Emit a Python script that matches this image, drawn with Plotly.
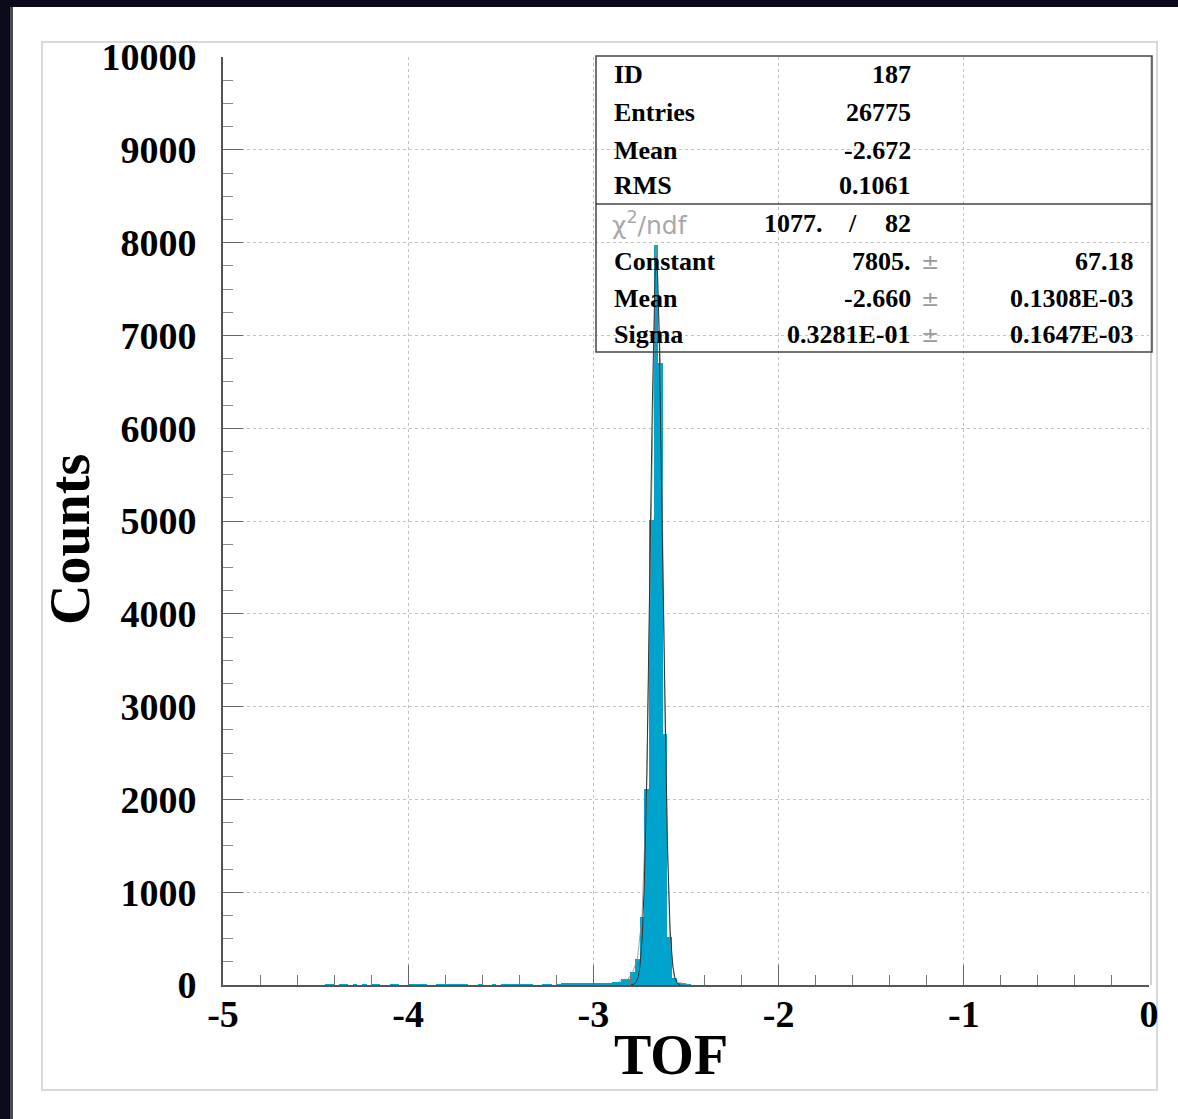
import numpy as np
import plotly.graph_objects as go

# ---------------- data ----------------
X_MIN, X_MAX = -5.0, 0.0
BIN_WIDTH = 0.025
bin_numbers = [22, 23, 25, 26, 28, 30, 32, 33, 36, 37, 40, 41, 42, 43,
               46, 47, 48, 49, 50, 51, 52, 55, 58, 60, 61, 62, 63, 64, 65, 66,
               69, 70, 72, 73, 74, 75, 76, 77, 78, 79, 80, 81, 82, 83, 84, 85,
               86, 87, 88, 89, 90, 91, 92, 93, 94, 95, 96, 97, 98, 99, 100]
counts = [8, 8, 6, 8, 7, 6, 9, 7, 8, 8, 10, 9, 8, 10,
          9, 10, 8, 10, 9, 8, 9, 6, 7, 8, 6, 9, 10, 8, 9, 10,
          8, 9, 10, 12, 11, 12, 15, 16, 14, 12, 16, 20, 18, 25, 30, 36,
          60, 62, 143, 280, 736, 2109, 5011, 7974, 6699, 2701, 514, 75, 25, 12, 5]

fit_constant = 7805.0
fit_mean = -2.660
fit_sigma = 0.03281
fit_range = [-2.80, -2.53]

x_tick_vals = [-5, -4, -3, -2, -1, 0]
x_tick_text = ["-5", "-4", "-3", "-2", "-1", "0"]
y_tick_vals = [0, 1000, 2000, 3000, 4000, 5000, 6000, 7000, 8000, 9000, 10000]
y_tick_text = [str(v) for v in y_tick_vals]

stat_labels_top = ["ID", "Entries", "Mean", "RMS"]
stat_values_top = ["187", "26775", "-2.672", "0.1061"]
chi2_value, ndf_value = "1077.", "82"
fit_labels = ["Constant", "Mean", "Sigma"]
fit_values = ["7805.", "-2.660", "0.3281E-01"]
fit_errors = ["67.18", "0.1308E-03", "0.1647E-03"]

# ---------------- geometry helpers ----------------
W, H = 1178, 1119
L, R, T, B = 223, 1149, 57, 985


def px(X):
    return (X - L) / (R - L)


def py(Y):
    return (B - Y) / (B - T)


BAR_COLOR = "#00A3CC"
SERIF = "Liberation Serif"

centers = [X_MIN + BIN_WIDTH * (k + 0.5) for k in bin_numbers]

fig = go.Figure()
fig.add_trace(go.Bar(x=centers, y=counts, width=BIN_WIDTH,
                     marker=dict(color=BAR_COLOR, line=dict(width=0)),
                     hoverinfo="x+y", showlegend=False))
# light outline joining bin contents
fig.add_trace(go.Scatter(x=centers[-16:], y=counts[-16:], mode="lines",
                         line=dict(color="rgba(140,140,140,0.8)", width=1),
                         hoverinfo="skip", showlegend=False))
xf = np.linspace(fit_range[0], fit_range[1], 300)
yf = fit_constant * np.exp(-0.5 * ((xf - fit_mean) / fit_sigma) ** 2)
fig.add_trace(go.Scatter(x=xf, y=yf, mode="lines",
                         line=dict(color="#333333", width=1),
                         hoverinfo="skip", showlegend=False))

shapes = []
# dark screen border (top / left)
shapes.append(dict(type="rect", xref="paper", yref="paper",
                   x0=px(0), x1=px(W), y0=py(0), y1=py(7),
                   fillcolor="#0b0b1c", line=dict(width=0), layer="above"))
shapes.append(dict(type="rect", xref="paper", yref="paper",
                   x0=px(0), x1=px(10), y0=py(H), y1=py(0),
                   fillcolor="#0b0b1c", line=dict(width=0), layer="above"))
shapes.append(dict(type="rect", xref="paper", yref="paper",
                   x0=px(10), x1=px(13), y0=py(H), y1=py(7),
                   fillcolor="#4a4a55", line=dict(width=0), layer="above"))
# canvas frame
shapes.append(dict(type="rect", xref="paper", yref="paper",
                   x0=px(42), x1=px(1157), y0=py(1090), y1=py(42),
                   line=dict(color="#d9d9d9", width=2), layer="below"))
# right frame line
shapes.append(dict(type="line", xref="paper", yref="paper",
                   x0=px(1151), x1=px(1151), y0=0, y1=1,
                   line=dict(color="#c4c4c4", width=1.5), layer="below"))
# stats box
shapes.append(dict(type="rect", xref="paper", yref="paper",
                   x0=px(596), x1=px(1152), y0=py(352), y1=py(56),
                   line=dict(color="#444444", width=1.5), layer="above"))
shapes.append(dict(type="line", xref="paper", yref="paper",
                   x0=px(596), x1=px(1152), y0=py(204), y1=py(204),
                   line=dict(color="#444444", width=1.5), layer="above"))

annotations = []
STAT_FONT = dict(family=SERIF, size=26, color="black", weight="bold")
top_rows = [75, 112, 150, 186]
for lab, val, yy in zip(stat_labels_top, stat_values_top, top_rows):
    annotations.append(dict(x=px(612), y=py(yy), xref="paper", yref="paper",
                            text=lab, showarrow=False, xanchor="left",
                            yanchor="middle", font=STAT_FONT))
    annotations.append(dict(x=px(913), y=py(yy), xref="paper", yref="paper",
                            text=val, showarrow=False, xanchor="right",
                            yanchor="middle", font=STAT_FONT))
# chi2 row
annotations.append(dict(x=px(610), y=py(224), xref="paper", yref="paper",
                        text="\u03c7<sup>2</sup>/ndf", showarrow=False,
                        xanchor="left", yanchor="middle",
                        font=dict(family="DejaVu Sans", size=25, color="#a8a8a8")))
annotations.append(dict(x=px(825), y=py(224), xref="paper", yref="paper",
                        text=chi2_value, showarrow=False, xanchor="right",
                        yanchor="middle", font=STAT_FONT))
annotations.append(dict(x=px(852), y=py(224), xref="paper", yref="paper",
                        text="/", showarrow=False, xanchor="center",
                        yanchor="middle", font=STAT_FONT))
annotations.append(dict(x=px(913), y=py(224), xref="paper", yref="paper",
                        text=ndf_value, showarrow=False, xanchor="right",
                        yanchor="middle", font=STAT_FONT))
fit_rows = [261, 298, 335]
for lab, val, err, yy in zip(fit_labels, fit_values, fit_errors, fit_rows):
    annotations.append(dict(x=px(612), y=py(yy), xref="paper", yref="paper",
                            text=lab, showarrow=False, xanchor="left",
                            yanchor="middle", font=STAT_FONT))
    annotations.append(dict(x=px(913), y=py(yy), xref="paper", yref="paper",
                            text=val, showarrow=False, xanchor="right",
                            yanchor="middle", font=STAT_FONT))
    annotations.append(dict(x=px(930), y=py(yy), xref="paper", yref="paper",
                            text="\u00b1", showarrow=False, xanchor="center",
                            yanchor="middle",
                            font=dict(family="DejaVu Sans", size=22, color="#9a9a9a")))
    annotations.append(dict(x=px(1136), y=py(yy), xref="paper", yref="paper",
                            text=err, showarrow=False, xanchor="right",
                            yanchor="middle", font=STAT_FONT))
# axis titles
annotations.append(dict(x=px(70), y=py(540), xref="paper", yref="paper",
                        text="Counts", textangle=-90, showarrow=False,
                        xanchor="center", yanchor="middle",
                        font=dict(family=SERIF, size=56, color="black", weight="bold")))
annotations.append(dict(x=px(671), y=py(1055), xref="paper", yref="paper",
                        text="TOF", showarrow=False,
                        xanchor="center", yanchor="middle",
                        font=dict(family=SERIF, size=56, color="black", weight="bold")))

TICK_FONT = dict(family=SERIF, size=38, color="black", weight="bold")
fig.update_layout(
    width=W, height=H, autosize=False,
    margin=dict(l=L, r=W - R, t=T, b=H - B, pad=0),
    paper_bgcolor="white", plot_bgcolor="white",
    bargap=0, showlegend=False,
    shapes=shapes, annotations=annotations,
    xaxis=dict(range=[X_MIN, X_MAX], tickvals=x_tick_vals, ticktext=x_tick_text,
               ticks="inside", ticklen=20, tickwidth=1.2, tickcolor="#666",
               minor=dict(dtick=0.2, tick0=-5, ticks="inside", ticklen=10,
                          tickwidth=1.2, tickcolor="#777", showgrid=False),
               showline=True, linecolor="#555", linewidth=1.8,
               showgrid=True, gridcolor="#c2c2c2", griddash="dot", gridwidth=1,
               zeroline=False, tickfont=TICK_FONT, ticklabelstandoff=-6,
               fixedrange=True),
    yaxis=dict(range=[0, 10000], tickvals=y_tick_vals, ticktext=y_tick_text,
               ticks="inside", ticklen=20, tickwidth=1.2, tickcolor="#666",
               minor=dict(dtick=250, tick0=0, ticks="inside", ticklen=10,
                          tickwidth=1.2, tickcolor="#888", showgrid=False),
               showline=True, linecolor="#555", linewidth=1.8,
               showgrid=True, gridcolor="#c2c2c2", griddash="dot", gridwidth=1,
               zeroline=False, tickfont=TICK_FONT, ticklabelstandoff=17,
               fixedrange=True),
)

fig.write_html("out.html", config={"displayModeBar": False},
               post_script="document.body.style.margin='0';"
                           "document.body.style.overflow='hidden';")
